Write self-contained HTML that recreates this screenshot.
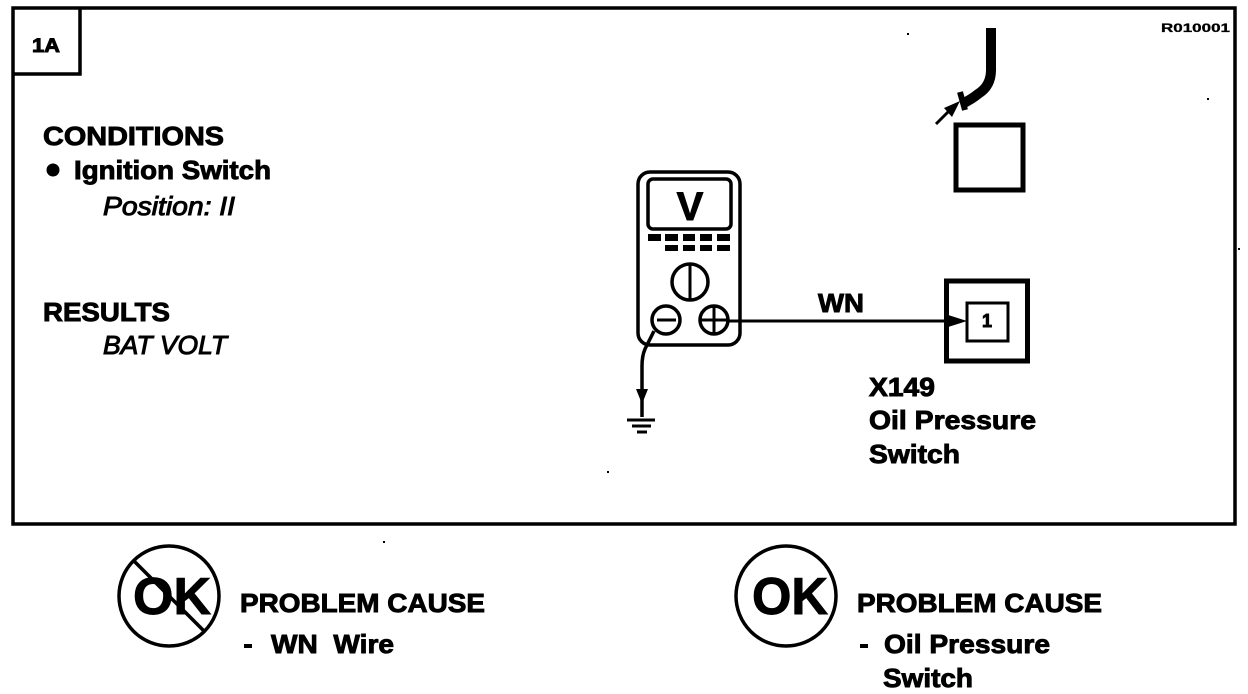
<!DOCTYPE html>
<html><head><meta charset="utf-8"><style>
html,body{margin:0;padding:0;background:#fff;width:1248px;height:694px;overflow:hidden}
svg{display:block}
text{font-family:"Liberation Sans",sans-serif;font-weight:bold;fill:#000;stroke:#000;stroke-width:.9}
.i{font-style:italic;font-weight:normal;stroke-width:1}
</style></head><body>
<svg width="1248" height="694" viewBox="0 0 1248 694" xmlns="http://www.w3.org/2000/svg">
<rect x="13" y="8" width="1222" height="516" fill="none" stroke="#000" stroke-width="3.5"/>
<path d="M14 74H80V9" fill="none" stroke="#000" stroke-width="3.5"/>
<text x="32" y="52" font-size="19" textLength="28" lengthAdjust="spacingAndGlyphs">1A</text>
<text x="1161" y="32" font-size="12" textLength="69" lengthAdjust="spacingAndGlyphs" style="stroke-width:.3">R010001</text>

<text x="43" y="145" font-size="26" textLength="181" lengthAdjust="spacingAndGlyphs">CONDITIONS</text>
<circle cx="53" cy="170" r="6.5" fill="#000"/>
<text x="74" y="179" font-size="26" textLength="197" lengthAdjust="spacingAndGlyphs">Ignition Switch</text>
<text class="i" x="103" y="215" font-size="26" textLength="132" lengthAdjust="spacingAndGlyphs">Position: II</text>
<text x="43" y="321" font-size="26" textLength="127" lengthAdjust="spacingAndGlyphs">RESULTS</text>
<text class="i" x="103" y="354" font-size="26" textLength="124" lengthAdjust="spacingAndGlyphs">BAT VOLT</text>

<!-- meter -->
<rect x="638" y="172" width="102" height="173" rx="12" fill="#fff" stroke="#000" stroke-width="3.5"/>
<rect x="648" y="179" width="83" height="50" rx="5" fill="#fff" stroke="#000" stroke-width="3.5"/>
<text x="690" y="220" font-size="40" text-anchor="middle">V</text>
<g fill="#000">
<rect x="648" y="234" width="13" height="7"/><rect x="665" y="234" width="13" height="7"/><rect x="683" y="234" width="12" height="7"/><rect x="700" y="234" width="12" height="7"/><rect x="717" y="234" width="13" height="7"/>
<rect x="665" y="245" width="13" height="6"/><rect x="683" y="245" width="12" height="6"/><rect x="700" y="245" width="12" height="6"/><rect x="717" y="245" width="13" height="6"/>
</g>
<circle cx="690" cy="282" r="18" fill="#fff" stroke="#000" stroke-width="3.5"/>
<path d="M690 264V300" stroke="#000" stroke-width="3"/>
<circle cx="666" cy="320" r="14" fill="#fff" stroke="#000" stroke-width="3.5"/>
<path d="M657 320H676" stroke="#000" stroke-width="3"/>
<circle cx="714" cy="320" r="14" fill="#fff" stroke="#000" stroke-width="3.5"/>
<path d="M700 320H728M714 306V334" stroke="#000" stroke-width="3"/>
<path d="M654 331L645 349Q642 356 642 366V417" fill="none" stroke="#000" stroke-width="3.5"/>
<path d="M636 389H648L642 404Z" fill="#000"/>
<path d="M627 420H655" stroke="#000" stroke-width="3"/>
<path d="M632 426H651" stroke="#000" stroke-width="3"/>
<path d="M637 432H647" stroke="#000" stroke-width="3"/>

<!-- wire -->
<path d="M728 321H950" stroke="#000" stroke-width="3"/>
<path d="M945 314L967 321L945 328Z" fill="#000"/>
<text x="818" y="312" font-size="26" textLength="46" lengthAdjust="spacingAndGlyphs">WN</text>

<!-- connector -->
<rect x="946.500" y="281" width="81" height="80" fill="none" stroke="#000" stroke-width="5"/>
<rect x="967" y="303" width="41" height="38" fill="#fff" stroke="#000" stroke-width="3"/>
<text x="987" y="327" font-size="18" text-anchor="middle">1</text>
<text x="869" y="396" font-size="26" textLength="66" lengthAdjust="spacingAndGlyphs">X149</text>
<text x="869" y="429" font-size="26" textLength="167" lengthAdjust="spacingAndGlyphs">Oil Pressure</text>
<text x="869" y="463" font-size="26" textLength="91" lengthAdjust="spacingAndGlyphs">Switch</text>

<!-- top connector -->
<path d="M991 28V70Q991 86 978 94Q972 99 962 104" fill="none" stroke="#000" stroke-width="10"/>
<path d="M960 92L965 110" stroke="#000" stroke-width="6"/>
<path d="M936 124L950 110" stroke="#000" stroke-width="3"/>
<path d="M944 108L960 101L952 117Z" fill="#000"/>
<rect x="956" y="125" width="67" height="65" fill="none" stroke="#000" stroke-width="5"/>

<!-- bottom left -->
<circle cx="169" cy="596" r="50" fill="none" stroke="#000" stroke-width="3.5"/>
<path d="M134 561L204 631" stroke="#000" stroke-width="3.5"/>
<text x="172" y="614" font-size="52" text-anchor="middle" textLength="78" lengthAdjust="spacingAndGlyphs">OK</text>
<text x="240" y="612" font-size="26" textLength="245" lengthAdjust="spacingAndGlyphs">PROBLEM CAUSE</text>
<rect x="244" y="644" width="8" height="4" fill="#000"/>
<text x="271" y="653" font-size="26" textLength="123" lengthAdjust="spacingAndGlyphs" xml:space="preserve">WN  Wire</text>

<!-- bottom right -->
<circle cx="786" cy="596" r="50" fill="none" stroke="#000" stroke-width="3.5"/>
<text x="790" y="614" font-size="52" text-anchor="middle" textLength="76" lengthAdjust="spacingAndGlyphs">OK</text>
<text x="857" y="612" font-size="26" textLength="245" lengthAdjust="spacingAndGlyphs">PROBLEM CAUSE</text>
<rect x="860" y="644" width="8" height="4" fill="#000"/>
<text x="884" y="653" font-size="26" textLength="166" lengthAdjust="spacingAndGlyphs">Oil Pressure</text>
<text x="883" y="687" font-size="26" textLength="90" lengthAdjust="spacingAndGlyphs">Switch</text>

<!-- scan specks -->
<g fill="#000"><rect x="907" y="33" width="2" height="2"/><rect x="1207" y="98" width="2" height="2"/><rect x="1238" y="248" width="2" height="2"/><rect x="607" y="471" width="2" height="2"/><rect x="383" y="541" width="2" height="2"/></g>
</svg>
</body></html>
